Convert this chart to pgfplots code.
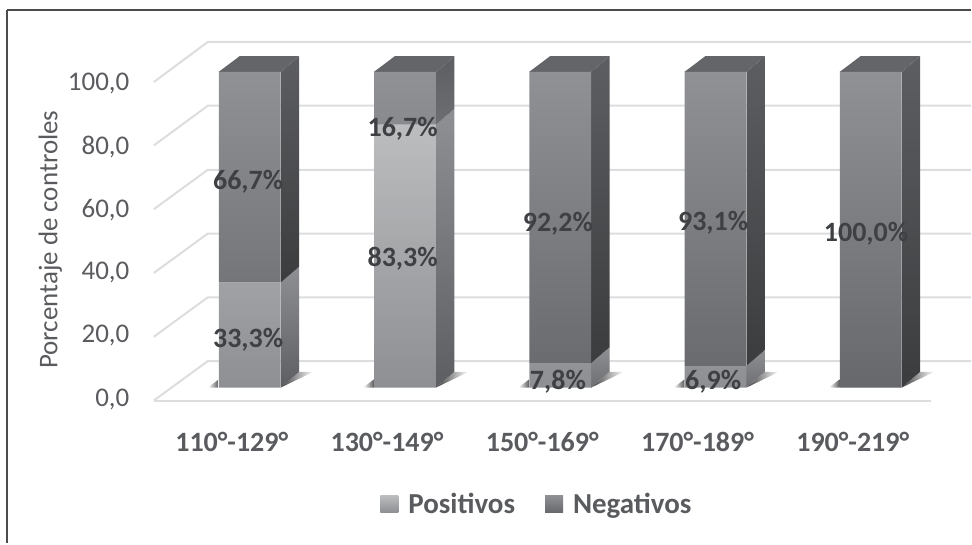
\documentclass[border=0pt]{standalone}
\usepackage{pgfplots}
\pgfplotsset{compat=1.18}
\usepackage{fontspec}
\setmainfont{Carlito}
\definecolor{gridc}{HTML}{DCDDDE}
\definecolor{txt}{HTML}{595B5E}
\definecolor{lbl}{HTML}{3E4043}
\definecolor{posT}{HTML}{BBBDBF}
\definecolor{posB}{HTML}{8D8F92}
\definecolor{negT}{HTML}{8F9194}
\definecolor{negB}{HTML}{66686B}
\definecolor{sideA}{HTML}{8E9093}
\definecolor{sideB}{HTML}{5C5E61}
\definecolor{sideC}{HTML}{6C6E71}
\definecolor{sideD}{HTML}{3A3C3E}
\definecolor{topc}{HTML}{636568}
% one outer face of a column: x centre, lower value, upper value, colours
\newcommand{\sideface}[5]{%
  \addplot[forget plot,draw=none,top color=#4,bottom color=#5]
    coordinates {(#1+0.2,#2)(#1+0.2,#3)(#1+0.318,#3+5)(#1+0.318,#2+5)} --cycle;}
\newcommand{\topface}[1]{%
  \addplot[forget plot,draw=none,fill=topc]
    coordinates {(#1-0.2,100)(#1+0.2,100)(#1+0.318,105)(#1-0.065,105)} --cycle;}
\newcommand{\floorshadow}[1]{%
  \addplot[forget plot,draw=none,left color=black!75,right color=white]
    coordinates {(#1+0.2,0)(#1+0.318,5)(#1+0.41,5)} --cycle;
  \addplot[forget plot,draw=none,left color=white,right color=black!65]
    coordinates {(#1-0.27,0)(#1-0.2,0)(#1-0.2,2.6)} --cycle;}
\newcommand{\gridrow}[2]{%
  \addplot[forget plot,gridc,line width=2pt]
    coordinates {(-0.618,#1)(-0.27,#2)(4.646,#2)};}
\begin{document}
\begin{tikzpicture}
\begin{axis}[
  scale only axis,
  width=783pt,height=360pt,
  xmin=-0.6242,xmax=4.4143,
  ymin=-4.43,ymax=109.5,
  clip=false,
  axis line style={draw=none},
  tick style={draw=none},
  xtick={0,1,2,3,4},
  xticklabels={110°-129°,130°-149°,150°-169°,170°-189°,190°-219°},
  ytick={0,20,40,60,80,100},
  yticklabels={{0,0},{20,0},{40,0},{60,0},{80,0},{100,0}},
  x tick label style={font=\fontsize{28}{30}\selectfont\bfseries,text=txt,yshift=-27pt,xshift=-18pt},
  y tick label style={font=\fontsize{27}{29}\selectfont,text=txt,yshift=-11.5pt,xshift=-20pt},
  ylabel={Porcentaje de controles},
  ylabel style={font=\fontsize{27}{29}\selectfont,text=txt,anchor=center,
    at={(axis description cs:-0.131,0.45)}},
  legend style={at={(axis cs:1.85,-37)},anchor=center,draw=none,fill=none,
    legend columns=2,font=\fontsize{29}{31}\selectfont\bfseries,text=txt,
    /tikz/every odd column/.append style={column sep=8pt},
    /tikz/every even column/.append style={column sep=28pt}},
  legend image code/.code={\path[#1] (0pt,-8pt) rectangle (18pt,9pt);},
  nodes near coords style={font=\fontsize{28}{30}\selectfont\bfseries,text=lbl,anchor=center},
]
% page and frame
\path (axis cs:-1.6088,122.78) rectangle (axis cs:4.646,-49.37);
\draw[black!70,line width=1.5pt] (axis cs:-1.563,119.6) -- (axis cs:4.646,119.6);
\draw[black!70,line width=1.5pt] (axis cs:-1.563,119.6) -- (axis cs:-1.563,-49.37);

% walls and floor
\addplot[forget plot,gridc,line width=2pt] coordinates {(-0.618,-4.11)(4.39,-4.11)};
\gridrow{-4.11}{8.39}
\gridrow{16.08}{28.6}
\gridrow{36.3}{48.8}
\gridrow{56.5}{69.0}
\gridrow{76.7}{89.3}
\gridrow{96.8}{109.5}

\floorshadow{0}\floorshadow{1}\floorshadow{2}\floorshadow{3}\floorshadow{4}

% column sides: lower segment
\sideface{0}{0}{33.3}{sideA}{sideB}
\sideface{1}{0}{83.3}{sideA}{sideB}
\sideface{2}{0}{7.8}{sideA}{sideC}
\sideface{3}{0}{6.9}{sideA}{sideC}
% column sides: upper segment
\sideface{0}{33.3}{100}{sideB}{sideD}
\sideface{1}{83.3}{100}{sideB}{sideC}
\sideface{2}{7.8}{100}{sideB}{sideD}
\sideface{3}{6.9}{100}{sideB}{sideD}
\sideface{4}{0}{100}{sideB}{sideD}
% column tops
\topface{0}\topface{1}\topface{2}\topface{3}\topface{4}

% column fronts
\addplot[ybar,stack plots=y,bar width=62pt,bar shift=0pt,draw=none,
  top color=posT,bottom color=posB]
  coordinates {(0,33.3)(1,83.3)(2,7.8)(3,6.9)(4,0)};
\addlegendentry{Positivos}
\addplot[ybar,stack plots=y,bar width=62pt,bar shift=0pt,draw=none,
  top color=negT,bottom color=negB]
  coordinates {(0,66.7)(1,16.7)(2,92.2)(3,93.1)(4,100)};
\addlegendentry{Negativos}

% value labels
\addplot[forget plot,only marks,mark=none,point meta=explicit symbolic,nodes near coords]
  coordinates {(-0.01,15.2)[33,3\%] (0.985,40.9)[83,3\%] (1.985,1.8)[7,8\%] (2.985,1.7)[6,9\%]
               (-0.01,65.2)[66,7\%] (0.985,82)[16,7\%] (1.985,51.9)[92,2\%] (2.985,52.2)[93,1\%] (3.97,48.8)[100,0\%]};
\end{axis}
\end{tikzpicture}
\end{document}
